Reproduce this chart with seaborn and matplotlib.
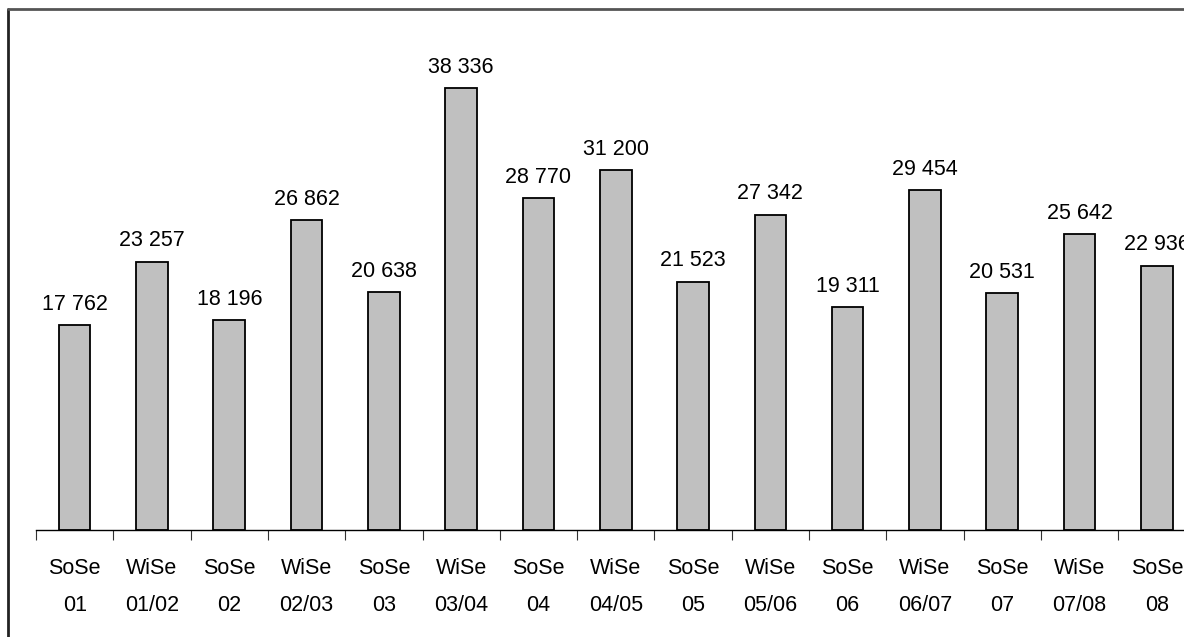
import numpy as np
import pandas as pd
import matplotlib
matplotlib.use("Agg")
import matplotlib.pyplot as plt
import seaborn as sns
from matplotlib.lines import Line2D

# Semesters and counts
semesters = ["SoSe\n01", "WiSe\n01/02", "SoSe\n02", "WiSe\n02/03", "SoSe\n03",
             "WiSe\n03/04", "SoSe\n04", "WiSe\n04/05", "SoSe\n05", "WiSe\n05/06",
             "SoSe\n06", "WiSe\n06/07", "SoSe\n07", "WiSe\n07/08", "SoSe\n08"]
counts = [17762, 23257, 18196, 26862, 20638, 38336, 28770, 31200,
          21523, 27342, 19311, 29454, 20531, 25642, 22936]

df = pd.DataFrame({"semester": semesters, "count": counts})

sns.set_style("white")
plt.rcParams["font.family"] = ["Liberation Sans", "DejaVu Sans"]
plt.rcParams["text.color"] = "black"
plt.rcParams["xtick.color"] = "black"
plt.rcParams["xtick.labelcolor"] = "black"

W, H = 1184, 637
fig = plt.figure(figsize=(W / 100, H / 100), dpi=100)

ymax = 45000
base_px = 530
left_px = 36
cat_px = 77.3
h_px = 442 * ymax / 38336
ax = fig.add_axes([left_px / W, (H - base_px) / H,
                   len(semesters) * cat_px / W, h_px / H])

sns.barplot(data=df, x="semester", y="count", color="#C0C0C0",
            edgecolor="black", linewidth=1.3, width=0.41, saturation=1, ax=ax)

ax.set_xlim(-0.5, len(semesters) - 0.5)
ax.set_ylim(0, ymax)
ax.set_xlabel("")
ax.set_ylabel("")
ax.set_yticks([])
for s in ["top", "right", "left"]:
    ax.spines[s].set_visible(False)
ax.spines["bottom"].set_linewidth(1.0)
ax.spines["bottom"].set_color("black")

ax.set_xticks(range(len(semesters)))
ax.set_xticklabels(semesters, fontsize=15.5, linespacing=2.0)
ax.tick_params(axis="x", which="major", length=0, pad=20, bottom=True)
ax.set_xticks(np.arange(-0.5, len(semesters), 1.0), minor=True)
ax.tick_params(axis="x", which="minor", length=7, width=0.8, color="#333333",
               direction="out", bottom=True)

for i, v in enumerate(counts):
    ax.text(i, v + 900, f"{v:,}".replace(",", " "), ha="center", va="bottom",
            fontsize=15.5, color="black", clip_on=False)

# outer frame (left and top edges visible)
fig.add_artist(Line2D([8 / W, 8 / W], [0, 1 - 9 / H], transform=fig.transFigure,
                      color="#222222", linewidth=2))
fig.add_artist(Line2D([8 / W, 1], [1 - 9 / H, 1 - 9 / H], transform=fig.transFigure,
                      color="#555555", linewidth=2))

fig.savefig("out.png", dpi=100)
